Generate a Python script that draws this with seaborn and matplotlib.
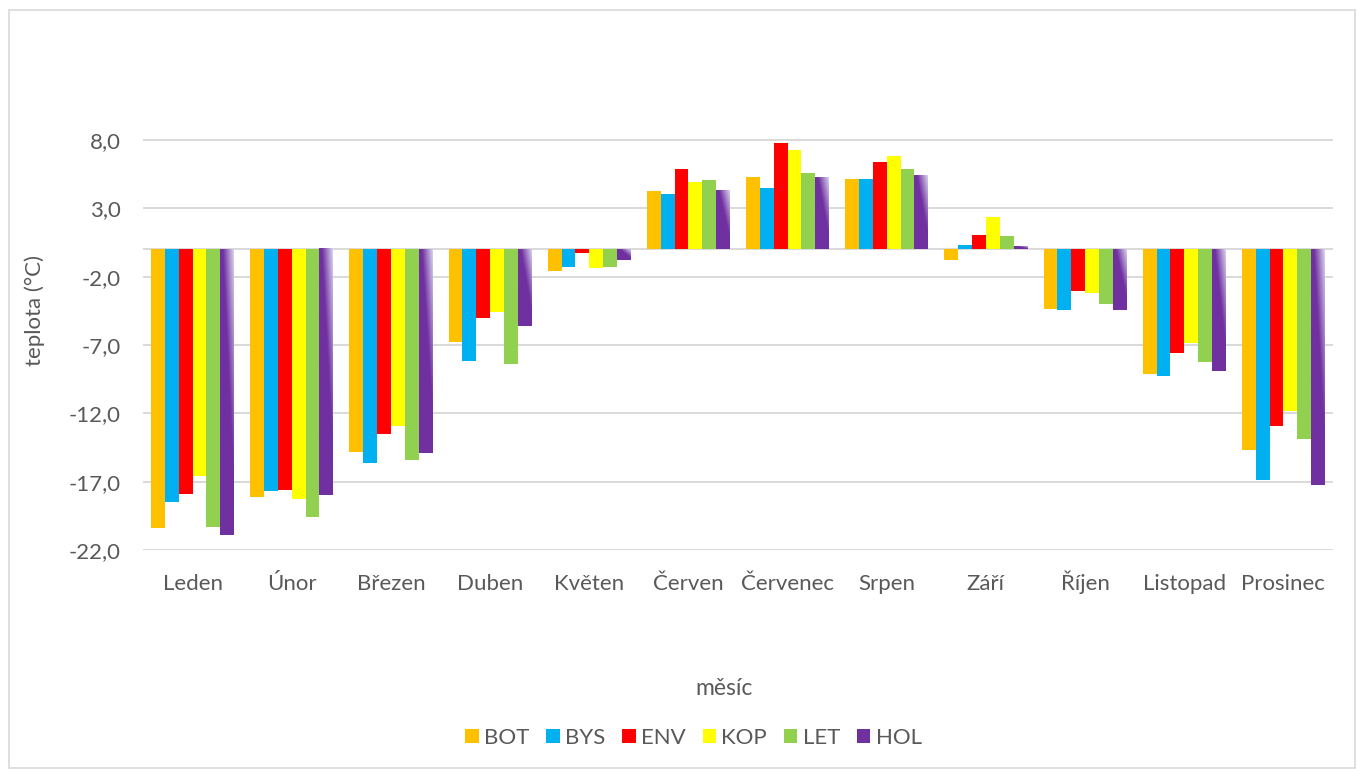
import numpy as np
import pandas as pd
import matplotlib
matplotlib.use("Agg")
import matplotlib.pyplot as plt
import seaborn as sns
from matplotlib.colors import to_rgb
from matplotlib.patches import Rectangle

months = ["Leden", "Únor", "Březen", "Duben", "Květen", "Červen", "Červenec",
          "Srpen", "Září", "Říjen", "Listopad", "Prosinec"]
stations = ["BOT", "BYS", "ENV", "KOP", "LET", "HOL"]
colors = ["#FFC000", "#00B0F0", "#FF0000", "#FFFF00", "#92D050", "#7030A0"]

BOT = [-20.4, -18.1, -14.8, -6.8, -1.6, 4.26, 5.3, 5.14, -0.78, -4.36, -9.09, -14.7]
BYS = [-18.5, -17.7, -15.6, -8.2, -1.3, 4.07, 4.5, 5.14, 0.31, -4.41, -9.26, -16.86]
ENV = [-17.9, -17.6, -13.5, -5.0, -0.25, 5.87, 7.77, 6.36, 1.02, -3.07, -7.58, -12.9]
KOP = [-16.6, -18.3, -12.9, -4.6, -1.4, 4.94, 7.3, 6.85, 2.38, -3.19, -6.85, -11.82]
LET = [-20.3, -19.6, -15.4, -8.4, -1.3, 5.1, 5.6, 5.87, 1.0, -4.0, -8.27, -13.87]
HOL = [-20.9, -18.0, -14.9, -5.6, -0.8, 4.26, 5.26, 5.36, 0.17, -4.44, -8.92, -17.25]

yticks = [-22, -17, -12, -7, -2, 3, 8]

series = {"BOT": BOT, "BYS": BYS, "ENV": ENV, "KOP": KOP, "LET": LET, "HOL": HOL}
rows = []
for s in stations:
    for m, v in zip(months, series[s]):
        rows.append({"měsíc": m, "stanice": s, "teplota": v})
df = pd.DataFrame(rows)

sns.set_theme(style="white")
plt.rcParams["font.family"] = ["Lato", "DejaVu Sans"]

W, H = 1357, 769
fig = plt.figure(figsize=(W / 100, H / 100), dpi=100)
ax = fig.add_axes([143 / W, 1 - 550 / H, 1190 / W, (550 - 71.6) / H])

sns.barplot(data=df, x="měsíc", y="teplota", hue="stanice", order=months,
            hue_order=stations, palette=colors, width=0.837, gap=0,
            saturation=1, ax=ax, legend=False, linewidth=0, errorbar=None)

ax.set_ylim(-22, 13)
ax.set_xlim(-0.5, len(months) - 0.5)
ax.set_yticks(yticks)
ax.set_yticklabels([f"{v:.1f}".replace(".", ",") for v in yticks])
for y in yticks:
    ax.axhline(y, color="#D9D9D9", lw=1.4, zorder=0)
ax.axhline(0, color="#D9D9D9", lw=1.4, zorder=0.5)

for sp in ax.spines.values():
    sp.set_visible(False)
ax.tick_params(axis="both", length=0, labelsize=16, labelcolor="#595959")
ax.tick_params(axis="y", pad=16)
ax.tick_params(axis="x", pad=28.5)
for lbl in ax.get_xticklabels():
    lbl.set_va("baseline")

ax.set_ylabel("teplota (°C)", fontsize=16, color="#595959")
ax.set_xlabel("měsíc", fontsize=16.5, color="#595959")
ax.yaxis.set_label_coords(-0.082, 0.5)
ax.xaxis.set_label_coords(0.488, -0.268)

# gradient on HOL bars (diagonal fade to top-right)
purple = np.array(to_rgb("#7030A0"))
light = np.array(to_rgb("#D8D4EE"))
nx, ny = 40, 200
u = np.linspace(0, 1, nx)[None, :]
vv = np.linspace(0, 1, ny)[:, None]
t = (u + vv) / 2
f = np.clip((t - 0.6) / 0.4, 0, 1)[..., None]
grad = purple * (1 - f) + light * f
for p in ax.containers[5].patches:
    x0, y0 = p.get_xy()
    w, h = p.get_width(), p.get_height()
    ylo, yhi = min(y0, y0 + h), max(y0, y0 + h)
    ax.imshow(grad, extent=[x0, x0 + w, ylo, yhi], origin="lower",
              aspect="auto", zorder=3, interpolation="bilinear")
ax.set_ylim(-22, 13)
ax.set_xlim(-0.5, len(months) - 0.5)

handles = [Rectangle((0, 0), 1, 1, facecolor=c, edgecolor="none") for c in colors]
fig.legend(handles, stations, loc="center", bbox_to_anchor=(693.5 / W, 1 - 737.7 / H),
           ncol=6, frameon=False, fontsize=16, handlelength=0.6, handleheight=0.6,
           handletextpad=0.25, columnspacing=0.75, labelcolor="#595959")

fig.patches.append(Rectangle((9 / W, 1 / H), (W - 11) / W, (H - 11) / H,
                             transform=fig.transFigure, fill=False,
                             edgecolor="#D9D9D9", lw=1.2))

fig.savefig("out.png", dpi=100)
